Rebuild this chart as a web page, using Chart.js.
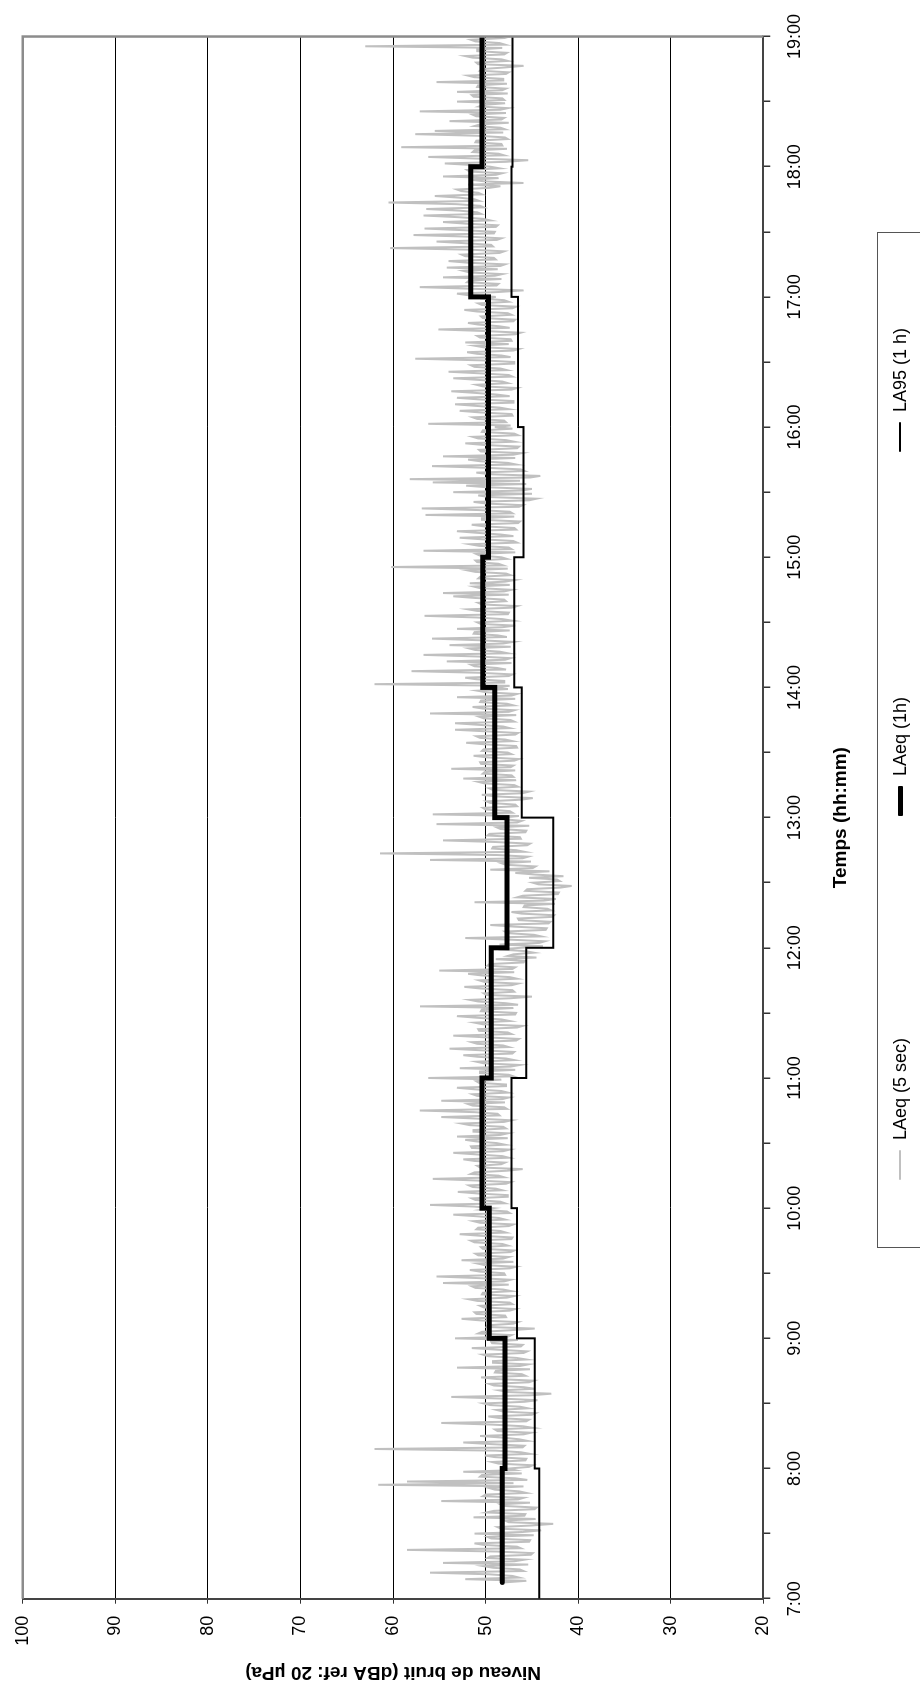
<!DOCTYPE html>
<html>
<head>
<meta charset="utf-8">
<title>Niveau de bruit</title>
<script src="https://cdn.jsdelivr.net/npm/chart.js@4.4.1/dist/chart.umd.min.js"></script>
<style>
  html, body { margin: 0; padding: 0; background: #fff; overflow: hidden; }
  #page { position: relative; width: 920px; height: 1696px; overflow: hidden; background: #fff; }
  /* the chart is laid out landscape and turned a quarter turn counter-clockwise */
  #sheet {
    position: absolute; left: 0; top: 0; width: 1696px; height: 920px; overflow: hidden;
    transform-origin: 0 0; transform: translate(0, 1696px) rotate(-90deg);
    font-family: 'Liberation Sans', Arial, sans-serif; background: #fff;
  }
  #chart { position: absolute; left: 0; top: 0; }
  #legend {
    position: absolute; left: 448px; top: 877px; width: 1016px; height: 80px;
    border: 1px solid #555; box-sizing: border-box; background: #fff;
  }
  .item {
    position: absolute; top: 7px; height: 30px; display: flex; align-items: center;
    font-size: 18px; color: #000; white-space: nowrap;
  }
  .swatch { display: inline-block; width: 30px; margin-right: 10px; border-radius: 1px; }
</style>
</head>
<body>
<div id="page">
  <div id="sheet">
    <canvas id="chart" width="1696" height="920"></canvas>
    <div id="legend"></div>
  </div>
</div>
<script>
// ---- data ----------------------------------------------------------------
const seriesNames = ['LAeq (5 sec)', 'LAeq (1h)', 'LA95 (1 h)'];
const xTitle = 'Temps (hh:mm)';
const yTitle = 'Niveau de bruit (dBA ref: 20 \u00b5Pa)';

// hourly blocks (start hour of each block), end of record at 19:00
const hourStarts = [7, 8, 9, 10, 11, 12, 13, 14, 15, 16, 17, 18];
const endHour = 19;
const firstSampleHour = 7.125;          // short LAeq record starts at 7:07:30
const sampleStepHours = 0.0125;         // one plotted sample every 45 s

// hourly equivalent level and 95th percentile level (dBA)
const laeq1h = [48.2, 47.9, 49.6, 50.4, 49.4, 47.7, 49.0, 50.3, 49.7, 49.7, 51.6, 50.4];
const la95 = [44.2, 44.7, 46.6, 47.2, 45.6, 42.7, 46.1, 46.9, 45.9, 46.5, 47.2, 47.1];

// short LAeq samples (dBA), one list per hour
const laeq5s_07 = [48.0,45.6, 52.2,46.4, 47.1,49.6, 56.0,45.9, 46.3,49.2, 50.2,45.4, 54.6,46.9, 45.8,49.8, 49.5,45.1, 44.9,48.8,
  58.5,46.2, 46.6,50.1, 51.2,45.3, 45.2,49.4, 49.8,44.8, 51.2,46.0, 44.0,48.3, 48.7,45.0, 42.7,47.5, 47.9,44.6,
  51.3,45.8, 45.7,49.9, 49.1,44.7, 44.5,48.0, 48.4,45.2, 54.8,46.5, 45.9,50.3, 50.0,45.6, 46.4,49.0, 49.6,45.9,
  61.6,47.0, 58.5,45.5, 46.8,50.6, 50.4,46.1, 52.4,46.8];
const laeq5s_08 = [47.5,45.3, 44.9,48.6, 49.3,45.7, 45.6,49.0, 50.1,45.2, 46.2,48.9, 62.0,46.0, 45.8,49.4, 52.4,45.5, 46.4,48.2,
  50.6,45.9, 45.1,48.7, 49.0,44.9, 46.0,49.3, 54.8,45.6, 45.3,48.5, 49.7,45.0, 44.6,48.1, 48.8,45.4, 46.3,49.5,
  50.2,45.8, 44.4,48.4, 53.7,45.1, 42.9,47.6, 48.5,44.7, 45.9,49.1, 49.6,45.3, 44.8,48.8, 50.5,45.7, 46.1,49.0,
  48.9,45.2, 53.1,46.3, 45.4,49.2, 49.2,45.6, 46.7,49.7, 50.3,45.9, 45.5,48.6, 51.5,46.2, 46.0,49.3, 49.4,46.5];
const laeq5s_09 = [53.3,47.6, 47.2,50.8, 50.4,47.3, 44.7,49.9, 49.8,47.0, 46.5,50.5, 52.6,47.8, 47.9,51.0, 51.2,47.4, 46.8,50.2,
  50.6,47.1, 47.4,50.9, 51.8,47.7, 46.9,50.4, 50.3,47.2, 48.1,51.1, 51.5,47.5, 54.6,48.0, 47.3,50.7, 55.3,47.9,
  48.0,50.6, 51.7,47.4, 46.7,50.1, 50.9,47.0, 52.6,48.1, 47.5,50.8, 51.1,47.3, 46.9,50.3, 50.5,47.6, 48.2,51.2,
  51.6,47.2, 47.1,50.5, 52.8,47.8, 48.4,51.0, 50.8,47.5, 47.0,50.6, 51.3,47.9, 48.6,50.9, 53.5,47.4, 47.7,50.4];
const laeq5s_10 = [49.2,51.3, 56.0,47.9, 48.4,51.1, 51.5,47.6, 47.6,50.8, 53.0,48.2, 48.9,51.4, 51.8,47.8, 47.3,51.0, 55.7,48.0,
  48.6,51.6, 51.2,47.7, 46.0,50.6, 50.9,48.3, 47.9,51.2, 52.4,47.5, 48.2,50.9, 53.5,48.1, 47.4,51.5, 51.6,47.9,
  48.8,51.0, 52.2,47.6, 53.1,48.4, 47.6,51.3, 51.3,47.8, 48.1,51.7, 52.6,48.0, 47.2,50.8, 54.8,48.5, 48.7,51.2,
  57.1,47.7, 48.0,51.4, 51.9,47.9, 54.8,48.2, 47.5,50.9, 51.4,47.6, 48.3,51.1, 53.1,47.8, 47.8,50.7, 51.0,48.3];
const laeq5s_11 = [56.2,47.0, 47.5,50.6, 50.6,46.8, 52.8,47.3, 46.3,50.2, 51.0,46.9, 47.8,50.8, 52.4,47.1, 46.9,50.4, 53.9,47.5,
  48.1,50.9, 51.5,46.7, 46.4,50.1, 53.5,47.2, 47.6,50.7, 50.8,46.6, 46.0,50.3, 51.2,47.4, 48.3,50.9, 53.1,46.8,
  46.7,50.5, 50.4,47.0, 57.1,46.5, 47.9,50.8, 51.7,47.3, 45.0,49.9, 50.2,46.9, 47.1,50.6, 52.3,47.2, 46.5,50.1,
  50.7,46.6, 47.4,50.4, 51.9,46.9, 55.0,47.1, 46.8,49.8, 49.6,45.9, 45.8,48.9, 44.5,47.6, 47.0,44.8, 45.8,48.6];
const laeq5s_12 = [46.2,43.8, 48.5,44.2, 43.6,47.3, 52.2,44.0, 44.8,47.6, 47.9,43.5, 43.4,46.9, 49.5,43.2, 43.0,46.4, 46.5,42.8,
  42.6,46.1, 47.2,42.9, 43.3,45.9, 45.8,42.5, 51.2,43.7, 42.4,46.6, 46.0,42.2, 42.1,45.7, 45.5,41.9, 40.7,44.3,
  44.9,42.0, 42.3,45.3, 41.6,44.6, 46.8,43.1, 49.5,44.9, 44.6,47.8, 48.3,45.1, 56.0,46.0, 45.4,48.7, 61.4,45.8,
  46.7,49.3, 49.2,45.5, 45.2,48.9, 54.6,46.2, 46.3,49.8, 49.6,45.7, 45.6,48.4, 48.8,45.3, 55.3,46.6, 46.1,48.0];
const laeq5s_13 = [48.2,46.4, 55.7,47.1, 47.4,50.0, 50.3,46.6, 46.8,49.5, 49.9,46.2, 44.9,48.8, 50.4,46.0, 45.3,49.2, 49.6,46.5,
  46.9,50.1, 50.8,46.7, 52.4,47.0, 47.2,50.3, 50.1,46.8, 53.7,47.3, 47.0,50.5, 50.6,46.9, 46.4,49.8, 51.3,47.2,
  47.6,50.4, 50.2,46.6, 46.7,50.0, 52.1,47.1, 47.9,50.6, 51.0,46.8, 46.5,49.9, 53.3,47.4, 48.1,50.7, 53.3,46.9,
  47.3,50.2, 50.7,46.7, 56.0,47.5, 46.9,50.3, 51.4,47.0, 47.7,50.6, 50.5,46.8, 53.1,47.2, 46.6,49.9, 50.9,47.6];
const laeq5s_14 = [49.3,47.4, 62.0,48.0, 48.0,51.0, 52.2,47.5, 47.1,50.6, 58.0,47.8, 48.8,51.2, 51.6,47.2, 54.2,47.9, 47.3,50.8,
  56.7,47.6, 48.5,51.1, 51.8,47.3, 53.9,48.1, 47.0,50.7, 55.8,47.7, 48.7,51.3, 51.2,47.4, 53.1,48.2, 46.8,50.5,
  50.9,47.1, 48.2,51.0, 56.6,47.6, 47.5,50.9, 51.9,47.2, 46.6,50.4, 50.8,47.8, 48.0,51.2, 53.5,47.5, 54.6,48.0,
  47.2,50.6, 51.3,47.4, 51.7,47.9, 46.9,50.8, 50.6,47.3, 47.8,51.1, 52.0,47.6, 60.2,48.1, 48.6,50.9, 51.1,47.7];
const laeq5s_15 = [48.3,50.6, 51.0,46.8, 56.7,47.2, 47.5,50.7, 51.7,46.6, 47.0,50.3, 52.8,47.0, 48.4,50.9, 53.1,46.7, 46.9,50.2,
  51.5,46.5, 46.3,50.4, 50.4,46.9, 56.5,47.1, 47.4,50.8, 56.9,46.4, 46.0,49.9, 51.3,45.3, 44.5,49.6, 50.8,45.0,
  53.5,46.1, 45.0,49.8, 52.1,45.6, 55.7,46.3, 58.2,45.2, 44.1,49.5, 51.0,45.8, 46.2,50.1, 55.8,46.7, 47.6,50.6,
  51.9,46.8, 54.6,47.0, 46.1,50.5, 50.7,46.6, 46.4,50.2, 52.2,46.9, 47.8,50.8, 51.4,46.5, 46.9,50.4, 50.3,47.1];
const laeq5s_16 = [49.0,47.3, 56.2,47.8, 48.0,50.9, 51.4,47.1, 47.2,50.6, 52.8,47.5, 48.5,51.0, 53.3,47.0, 47.0,50.7, 53.1,47.4,
  48.8,51.1, 53.7,47.2, 46.6,50.3, 51.0,47.6, 48.2,50.8, 53.5,47.1, 47.5,50.5, 54.0,47.7, 48.4,51.2, 51.6,46.9,
  46.9,50.4, 57.6,47.3, 48.3,50.9, 52.0,47.0, 46.4,50.2, 51.2,47.5, 52.2,47.2, 47.3,50.6, 50.9,46.8, 46.2,50.0,
  55.1,47.4, 48.6,50.8, 51.9,47.0, 46.8,50.3, 50.5,47.2, 47.6,50.9, 52.3,47.1, 46.7,50.4, 50.8,47.5, 48.0,50.6];
const laeq5s_17 = [48.9,51.8, 53.1,48.6, 45.9,51.5, 57.1,48.8, 48.6,52.0, 51.8,48.3, 54.6,49.0, 48.2,51.7, 52.4,48.7, 54.2,48.4,
  47.9,51.9, 54.0,48.9, 49.1,52.2, 52.6,48.5, 48.0,51.6, 60.3,49.2, 49.4,52.3, 55.3,48.8, 48.3,51.8, 57.8,49.1,
  49.0,52.4, 56.6,48.9, 48.7,52.1, 54.6,49.5, 50.3,53.0, 56.7,50.5, 50.9,52.8, 56.4,50.2, 50.6,53.2, 60.5,50.7,
  51.2,52.9, 55.5,50.4, 50.8,52.6, 53.1,49.6, 48.4,51.9, 45.9,50.1, 51.6,48.6, 54.6,48.9, 48.2,51.7, 52.0,48.5];
const laeq5s_18 = [49.5,51.3, 54.4,47.8, 45.4,50.9, 56.2,48.0, 48.6,51.4, 51.2,47.7, 59.1,48.2, 48.3,51.1, 51.0,47.6, 47.9,50.8,
  57.6,48.1, 55.5,47.9, 48.4,51.2, 50.6,47.5, 53.9,48.3, 48.0,51.0, 51.4,47.8, 57.1,48.4, 47.6,50.7, 50.2,47.9,
  53.1,48.0, 48.2,51.3, 51.5,47.6, 53.1,48.2, 47.8,50.9, 50.8,47.7, 55.3,48.1, 48.1,51.2, 51.9,47.8, 47.5,50.6,
  50.4,47.9, 45.9,50.8, 51.0,47.6, 48.3,51.4, 52.2,48.0, 47.7,50.9, 50.9,48.2, 63.0,47.9, 48.5,51.1, 51.6,48.3];
const laeq5s_end = 49.0;                // last sample, 19:00

// ---- building the datasets -------------------------------------------------
const laeq5sBlocks = [
  [firstSampleHour, laeq5s_07], [8, laeq5s_08], [9, laeq5s_09], [10, laeq5s_10],
  [11, laeq5s_11], [12, laeq5s_12], [13, laeq5s_13], [14, laeq5s_14],
  [15, laeq5s_15], [16, laeq5s_16], [17, laeq5s_17], [18, laeq5s_18]
];

function samplePoints() {
  const pts = [];
  laeq5sBlocks.forEach(([start, values]) => {
    values.forEach((v, i) => pts.push({ x: start + i * sampleStepHours, y: v }));
  });
  pts.push({ x: endHour, y: laeq5s_end });
  return pts;
}

function hourlyPoints(values, firstTime) {
  const pts = hourStarts.map((h, i) => ({ x: (i === 0 && firstTime !== undefined) ? firstTime : h, y: values[i] }));
  pts.push({ x: endHour, y: values[values.length - 1] });
  return pts;
}

// ---- chart -----------------------------------------------------------------
Chart.defaults.font.family = "'Liberation Sans', Arial, sans-serif";
Chart.defaults.color = '#000';

// grey frame on the two sides of the plot area that carry no axis
const plotFrame = {
  id: 'plotFrame',
  afterDatasetsDraw(chart) {
    const { ctx, chartArea: a } = chart;
    ctx.save();
    ctx.strokeStyle = '#8c8c8c';
    ctx.lineWidth = 2.5;
    ctx.beginPath();
    ctx.moveTo(a.left, a.top);
    ctx.lineTo(a.right, a.top);
    ctx.lineTo(a.right, a.bottom);
    ctx.stroke();
    ctx.restore();
  }
};

const chart = new Chart(document.getElementById('chart'), {
  type: 'line',
  data: {
    datasets: [
      {
        label: seriesNames[0], data: samplePoints(),
        borderColor: '#c0c0c0', backgroundColor: '#c0c0c0', borderWidth: 2,
        pointRadius: 0, tension: 0, order: 3
      },
      {
        label: seriesNames[1], data: hourlyPoints(laeq1h, firstSampleHour),
        borderColor: '#000', backgroundColor: '#000', borderWidth: 5,
        stepped: 'before', pointRadius: 0, borderCapStyle: 'round', order: 1
      },
      {
        label: seriesNames[2], data: hourlyPoints(la95),
        borderColor: '#000', backgroundColor: '#000', borderWidth: 2,
        stepped: 'before', pointRadius: 0, order: 2
      }
    ]
  },
  options: {
    responsive: false,
    devicePixelRatio: 1,
    animation: false,
    events: [],
    layout: { padding: { top: 22.7, right: 30.7, bottom: 0, left: 0 } },
    plugins: { legend: { display: false }, tooltip: { enabled: false } },
    scales: {
      x: {
        type: 'linear', min: 7, max: 19,
        afterFit(s) { s.height = 156.7; },
        ticks: {
          stepSize: 0.5, autoSkip: false, maxRotation: 0, minRotation: 0, padding: 14,
          font: { size: 18 }, color: '#000',
          callback: v => Number.isInteger(v) ? v + ':00' : ''
        },
        grid: { drawOnChartArea: false, drawTicks: true, tickLength: 7, color: '#333', lineWidth: 1.5 },
        border: { color: '#444', width: 2 },
        title: { display: true, text: xTitle, font: { size: 19, weight: 'bold' }, color: '#000', padding: { top: 0, bottom: 68 } }
      },
      y: {
        type: 'linear', min: 20, max: 100,
        afterFit(s) { s.width = 97.3; },
        ticks: { stepSize: 10, padding: 12, font: { size: 18 }, color: '#000' },
        grid: { color: '#000', lineWidth: 1, tickLength: 5, tickColor: '#333' },
        border: { color: '#444', width: 2 },
        title: { display: true, text: yTitle, font: { size: 19, weight: 'bold' }, color: '#000', padding: { top: 12.6, bottom: 0 } }
      }
    }
  },
  plugins: [plotFrame]
});

// ---- legend (boxed, below the plot in the landscape layout) -----------------
const legendSlots = [67, 431, 795];
const legend = document.getElementById('legend');
[0, 1, 2].forEach((k) => {
  const ds = chart.data.datasets[k];
  const item = document.createElement('div');
  item.className = 'item';
  item.style.left = legendSlots[k] + 'px';
  const sw = document.createElement('span');
  sw.className = 'swatch';
  sw.style.height = ds.borderWidth + 'px';
  sw.style.background = ds.borderColor;
  const tx = document.createElement('span');
  tx.textContent = ds.label;
  item.appendChild(sw);
  item.appendChild(tx);
  legend.appendChild(item);
});
</script>
</body>
</html>
